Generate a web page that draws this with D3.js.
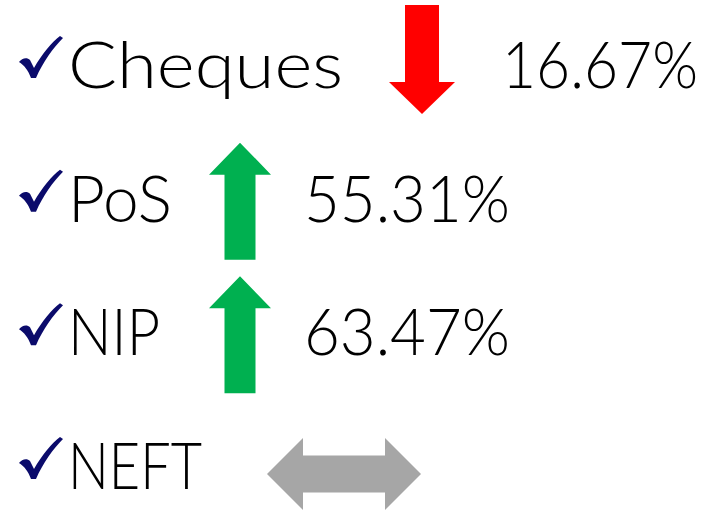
<!DOCTYPE html>
<html>
<head>
<meta charset="utf-8">
<script src="https://cdn.jsdelivr.net/npm/d3@7"></script>
<style>
  html, body { margin: 0; padding: 0; background: #fff; }
  svg text { font-family: Lato, "DejaVu Sans", sans-serif; font-weight: 300; fill: #000; }
</style>
</head>
<body>
<div id="chart"></div>
<script>
// data
var categories = ['Cheques', 'PoS', 'NIP', 'NEFT'];
var changes = ['16.67%', '55.31%', '63.47%', ''];
var directions = ['down', 'up', 'up', 'flat'];

var width = 710, height = 512;
var colors = {down: '#ff0000', up: '#00b050', flat: '#a6a6a6'};

// where each row puts its arrow and its percentage (taken from the slide)
var layout = {
    Cheques: {arrowX: 422, pctX: 502, pctW: 196, labelW: 275},
    PoS:     {arrowX: 240, pctX: 304, pctW: 206, labelW: 104},
    NIP:     {arrowX: 240, pctX: 304, pctW: 206, labelW: 92},
    NEFT:    {arrowX: 344, pctX: 0,   pctW: 0,   labelW: 134}
};

var rows = categories.map(function(c, i){
    return {name: c, change: changes[i], dir: directions[i]};
});

var y = d3.scalePoint().domain(categories).range([88, 489]);

var svg = d3.select('#chart').append('svg')
    .attr('width', width)
    .attr('height', height);

var row = svg.selectAll('g.row').data(rows).enter()
    .append('g')
    .attr('class', 'row')
    .attr('transform', function(d){ return 'translate(0,' + y(d.name) + ')'; });

// tick mark, baseline-relative
row.append('path')
    .attr('fill', '#0b0b6b')
    .attr('d', 'M19,-26 C22,-30 27,-31 30,-28 L34,-20 C42,-34 52,-46 60,-52 L63,-50 ' +
               'C53,-40 43,-26 36,-10 L31,-10 C28,-18 24,-23 19,-26 Z');

row.append('text')
    .attr('x', 68)
    .attr('y', 0)
    .attr('font-size', 66)
    .attr('textLength', function(d){ return layout[d.name].labelW; })
    .attr('lengthAdjust', 'spacingAndGlyphs')
    .text(function(d){ return d.name; });

row.filter(function(d){ return d.change !== ''; })
    .append('text')
    .attr('x', function(d){ return layout[d.name].pctX; })
    .attr('y', 0)
    .attr('font-size', 66)
    .attr('textLength', function(d){ return layout[d.name].pctW; })
    .attr('lengthAdjust', 'spacingAndGlyphs')
    .text(function(d){ return d.change; });

function arrowPath(d){
    var cx = layout[d.name].arrowX;
    if(d.dir == 'down'){
        // shaft from -83 to -6, head to +26
        return 'M' + (cx-17) + ',-83 L' + (cx+17) + ',-83 L' + (cx+17) + ',-6 L' + (cx+33) + ',-6 L' +
            cx + ',26 L' + (cx-33) + ',-6 L' + (cx-17) + ',-6 Z';
    } else if(d.dir == 'up'){
        return 'M' + cx + ',-79 L' + (cx+31) + ',-47 L' + (cx+15.5) + ',-47 L' + (cx+15.5) + ',38 L' +
            (cx-15.5) + ',38 L' + (cx-15.5) + ',-47 L' + (cx-31) + ',-47 Z';
    } else {
        var l = cx-77, r = cx+77, c = -15;
        return 'M' + l + ',' + c + ' L' + (l+36) + ',' + (c-36) + ' L' + (l+36) + ',' + (c-18.5) +
            ' L' + (r-36) + ',' + (c-18.5) + ' L' + (r-36) + ',' + (c-36) + ' L' + r + ',' + c +
            ' L' + (r-36) + ',' + (c+36) + ' L' + (r-36) + ',' + (c+18.5) + ' L' + (l+36) + ',' + (c+18.5) +
            ' L' + (l+36) + ',' + (c+36) + ' Z';
    }
}

row.append('path')
    .attr('fill', function(d){ return colors[d.dir]; })
    .attr('d', arrowPath);
</script>
</body>
</html>
